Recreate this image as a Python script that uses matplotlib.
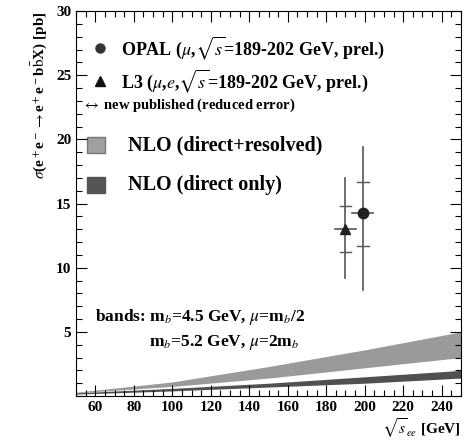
import numpy as np
import matplotlib.pyplot as plt
from matplotlib.patches import Rectangle

plt.rcParams['font.family'] = ['Liberation Serif', 'DejaVu Serif']
plt.rcParams['mathtext.fontset'] = 'stix'

# NLO bands
band_x = [50, 100, 150, 200, 250]
full_lo = [0.25, 0.75, 1.4, 2.2, 3.0]
full_hi = [0.30, 1.10, 2.3, 3.6, 5.0]
direct_lo = [0.15, 0.40, 0.70, 1.0, 1.4]
direct_hi = [0.25, 0.60, 1.00, 1.5, 2.0]

# data points: sqrt(s), value, full error range, reduced error range
opal_x, opal_y = 199, 14.3
opal_err = (8.3, 19.4)
opal_new = (11.7, 16.7)
l3_x, l3_y = 190, 13.0
l3_err = (9.2, 17.0)
l3_new = (11.25, 14.8)
x_halfwidth = 5.5

fig = plt.figure(figsize=(4.67, 4.43), dpi=100)
ax = fig.add_axes([0.163, 0.106, 0.824, 0.869])

ax.fill_between(band_x, full_lo, full_hi, color='#9a9a9a', lw=0)
ax.fill_between(band_x, direct_lo, direct_hi, color='#505050', lw=0)

for x, y, err, new, m, ms in [(opal_x, opal_y, opal_err, opal_new, 'o', 7.5),
                              (l3_x, l3_y, l3_err, l3_new, '^', 7)]:
    ax.plot([x, x], err, color='#555555', lw=1.2)
    ax.plot([x - x_halfwidth, x + x_halfwidth], [y, y], color='#555555', lw=1.2)
    for v in new:
        ax.plot([x - 3, x + 3], [v, v], color='#555555', lw=1.0)
    ax.plot(x, y, marker=m, ms=ms, color='#222222', ls='none')

ax.set_xlim(50, 250)
ax.set_ylim(0, 30)
ax.set_xticks(np.arange(60, 250, 20))
ax.set_xticks(np.arange(50, 251, 5), minor=True)
ax.set_yticks([5, 10, 15, 20, 25, 30])
ax.set_yticks(np.arange(0, 31, 1), minor=True)
ax.tick_params(which='both', direction='in', top=True, right=True,
               labelsize=11, width=0.8)
ax.tick_params(which='major', length=8)
ax.tick_params(which='minor', length=4)
for lab in ax.get_xticklabels() + ax.get_yticklabels():
    lab.set_fontweight('bold')

# legend drawn by hand
tk = dict(transform=ax.transAxes, fontweight='bold', va='center')
ax.plot(0.062, 0.904, 'o', ms=6.5, color='#333333', transform=ax.transAxes)
ax.text(0.117, 0.904, r'OPAL ($\mu$,$\sqrt{s}$=189-202 GeV, prel.)', fontsize=13, **tk)
ax.plot(0.062, 0.818, '^', ms=6.5, color='#111111', transform=ax.transAxes)
ax.text(0.117, 0.818, r'L3 ($\mu$,$e$,$\sqrt{s}$=189-202 GeV, prel.)', fontsize=13, **tk)
ax.text(0.015, 0.755, r'$\leftrightarrow$ new published (reduced error)', fontsize=10.5, **tk)
ax.add_patch(Rectangle((0.029, 0.631), 0.047, 0.042, transform=ax.transAxes,
                       facecolor='#a0a0a0', edgecolor='#777777', lw=1))
ax.text(0.135, 0.652, 'NLO (direct+resolved)', fontsize=14.5, **tk)
ax.add_patch(Rectangle((0.029, 0.527), 0.047, 0.042, transform=ax.transAxes,
                       facecolor='#555555', edgecolor='#555555', lw=1))
ax.text(0.135, 0.548, 'NLO (direct only)', fontsize=14.5, **tk)

ax.text(0.05, 0.205, r'bands: m$_b$=4.5 GeV, $\mu$=m$_b$/2', fontsize=12.5, **tk)
ax.text(0.19, 0.14, r'm$_b$=5.2 GeV, $\mu$=2m$_b$', fontsize=12.5, **tk)

ax.set_ylabel(r'$\sigma$(e$^+$e$^-\rightarrow$e$^+$e$^-$b$\bar{\rm b}$X) [pb]',
              fontsize=11, fontweight='bold', loc='top')
ax.set_xlabel(r'$\sqrt{s}_{ee}$ [GeV]', fontsize=11, fontweight='bold', loc='right',
              labelpad=2)

plt.savefig('out.png', dpi=100)
